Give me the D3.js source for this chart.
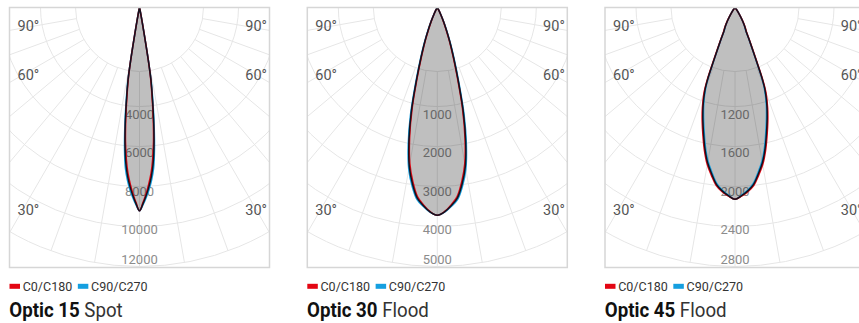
<!DOCTYPE html>
<html><head><meta charset="utf-8">
<script src="https://cdn.jsdelivr.net/npm/d3@7"></script>
<style>body{margin:0;background:#fff}svg{display:block}</style>
</head><body>
<svg id="c" width="859" height="323"></svg>
<script>
// ---------- DATA ----------
const titles = ["Optic 15", "Optic 30", "Optic 45"];
const subtitles = ["Spot", "Flood", "Flood"];
const legendNames = ["C0/C180", "C90/C270"];
const angleLabels = [90, 60, 30];

const ticks15 = [4000, 6000, 8000, 10000, 12000];
const ticks30 = [1000, 2000, 3000, 4000, 5000];
const ticks45 = [1200, 1600, 2000, 2400, 2800];

// angles (deg from nadir) and intensities (cd)
const angles15 = [0, 1, 2, 3, 4, 5, 6, 7, 8, 9, 9.5, 10, 11, 12, 90];
const c0_15  = [9420, 9055, 8643, 8195, 7698, 7037, 6227, 5243, 4215, 3274, 2377, 1256, 359, 0, 0];
const c90_15 = [9420, 9145, 8817, 8445, 8012, 7473, 6613, 5567, 4475, 3476, 2523, 1334, 381, 0, 0];

const angles30 = [0, 2, 4, 6, 8, 10, 12, 14, 16, 18, 20, 22, 24, 26, 28, 30, 35, 90];
const c0_30  = [4010, 3945, 3820, 3670, 3395, 3060, 2575, 2010, 1405, 975, 675, 435, 272, 145, 70, 18, 0, 0];
const c90_30 = [4010, 3955, 3850, 3730, 3485, 3170, 2695, 2140, 1515, 1065, 745, 485, 308, 165, 80, 22, 0, 0];

const angles45 = [0, 2, 4, 6, 8, 10, 12, 14, 16, 18, 20, 21, 22, 23, 24, 25, 27, 29, 31, 35, 40, 90];
const c0_45  = [2073, 2040, 1995, 1935, 1832, 1725, 1585, 1430, 1285, 1140, 975, 835, 615, 475, 375, 296, 243, 184, 125, 47, 0, 0];
const c90_45 = [2073, 2030, 1979, 1909, 1798, 1685, 1539, 1380, 1235, 1094, 925, 781, 569, 439, 347, 274, 225, 170, 115, 43, 0, 0];

const panels = [
  {title: titles[0], sub: subtitles[0], ticks: ticks15, angles: angles15, c0: c0_15, c90: c90_15},
  {title: titles[1], sub: subtitles[1], ticks: ticks30, angles: angles30, c0: c0_30, c90: c90_30},
  {title: titles[2], sub: subtitles[2], ticks: ticks45, angles: angles45, c0: c0_45, c90: c90_45}
];

// ---------- LAYOUT ----------
const svg = d3.select("#c");
const W = 260, H = 260, TOP = 7.5;
const lefts = [9.5, 307.3, 605];
const R = 259, HOLE = 64, RING0 = 99;
const RED = "#e30613", BLUE = "#159fe0", DARK = "#12121e";
const degBaseline = {90: 23.2, 60: 72.5, 30: 207.5};
const defs = svg.append("defs");

panels.forEach((p, i) => {
  const g = svg.append("g").attr("transform", `translate(${lefts[i]},${TOP})`);
  const cx = W / 2;
  defs.append("clipPath").attr("id", "clip" + i)
    .append("rect").attr("x", 0).attr("y", 0).attr("width", W).attr("height", H);

  const tmax = p.ticks[p.ticks.length - 1];
  const ringScale = d3.scaleLinear().domain([p.ticks[0], tmax]).range([RING0, R]);
  const rScale = d3.scaleLinear().domain([0, tmax]).range([0, R]);
  const labelScale = d3.scaleLinear().domain([p.ticks[0], p.ticks[3]]).range([111.5, 226.5]);

  const grid = g.append("g").attr("clip-path", `url(#clip${i})`)
    .attr("fill", "none").attr("stroke", "#e6e6e6").attr("stroke-width", 1);
  grid.append("circle").attr("cx", cx).attr("cy", 0).attr("r", HOLE);
  p.ticks.forEach(t => grid.append("circle").attr("cx", cx).attr("cy", 0).attr("r", ringScale(t)));
  d3.range(-80, 81, 10).forEach(a => {
    const t = a * Math.PI / 180;
    grid.append("line")
      .attr("x1", cx + HOLE * Math.sin(t)).attr("y1", HOLE * Math.cos(t))
      .attr("x2", cx + R * Math.sin(t)).attr("y2", R * Math.cos(t));
  });

  // ring value labels
  p.ticks.forEach(t => {
    g.append("text").attr("x", cx).attr("y", Math.min(labelScale(t), H - 4))
      .attr("text-anchor", "middle").attr("font-family", "Roboto, sans-serif")
      .attr("font-size", 13).attr("fill", "#8c8c8c").text(t);
  });
  // angle labels
  angleLabels.forEach(a => {
    g.append("text").attr("x", 8).attr("y", degBaseline[a])
      .attr("font-family", "Roboto, sans-serif").attr("font-size", 14.5).attr("fill", "#555").text(a + "°");
    g.append("text").attr("x", W - 2.5).attr("y", degBaseline[a]).attr("text-anchor", "end")
      .attr("font-family", "Roboto, sans-serif").attr("font-size", 14.5).attr("fill", "#555").text(a + "°");
  });

  // curves
  const mkPts = vals => {
    const pts = [];
    for (let j = p.angles.length - 1; j >= 1; j--) pts.push({a: -p.angles[j], v: vals[j]});
    for (let j = 0; j < p.angles.length; j++) pts.push({a: p.angles[j], v: vals[j]});
    return pts;
  };
  const meanVals = p.c0.map((v, j) => (v + p.c90[j]) / 2);
  const radial = d3.lineRadial()
    .angle(d => Math.PI - d.a * Math.PI / 180)
    .radius(d => rScale(d.v))
    .curve(d3.curveCatmullRom.alpha(0.5));
  const cg = g.append("g").attr("transform", `translate(${cx},0)`);
  cg.append("path").attr("d", radial(mkPts(meanVals)) + "Z").attr("fill", "rgba(0,0,0,0.25)").attr("stroke", "none");
  cg.append("path").attr("d", radial(mkPts(p.c90))).attr("fill", "none").attr("stroke", BLUE).attr("stroke-width", 1.6);
  cg.append("path").attr("d", radial(mkPts(p.c0))).attr("fill", "none").attr("stroke", RED).attr("stroke-width", 1.6);
  cg.append("path").attr("d", radial(mkPts(meanVals))).attr("fill", "none").attr("stroke", DARK).attr("stroke-width", 1.5);

  // frame
  g.append("rect").attr("x", 0).attr("y", 0).attr("width", W).attr("height", H)
    .attr("fill", "none").attr("stroke", "#d6d6d6").attr("stroke-width", 1.5);

  // legend
  const lg = svg.append("g").attr("transform", `translate(${lefts[i]},0)`);
  const colors = [RED, BLUE];
  let x = 0;
  legendNames.forEach((n, k) => {
    lg.append("rect").attr("x", x).attr("y", 283.8).attr("width", 10.5).attr("height", 5).attr("fill", colors[k]);
    const t = lg.append("text").attr("x", x + 13.2).attr("y", 290.6)
      .attr("font-family", "Roboto, sans-serif").attr("font-size", 12.5).attr("fill", "#333").text(n);
    x += 13.2 + t.node().getComputedTextLength() + 5.6;
  });

  // title
  const tt = svg.append("text").attr("transform", `translate(${lefts[i] - 0.2},316.5) scale(0.89,1)`)
    .attr("font-family", "Roboto, sans-serif").attr("font-size", 21).attr("fill", "#111");
  tt.append("tspan").attr("font-weight", "bold").text(p.title);
  tt.append("tspan").attr("fill", "#333").text(" " + p.sub);
});
</script>
</body></html>
